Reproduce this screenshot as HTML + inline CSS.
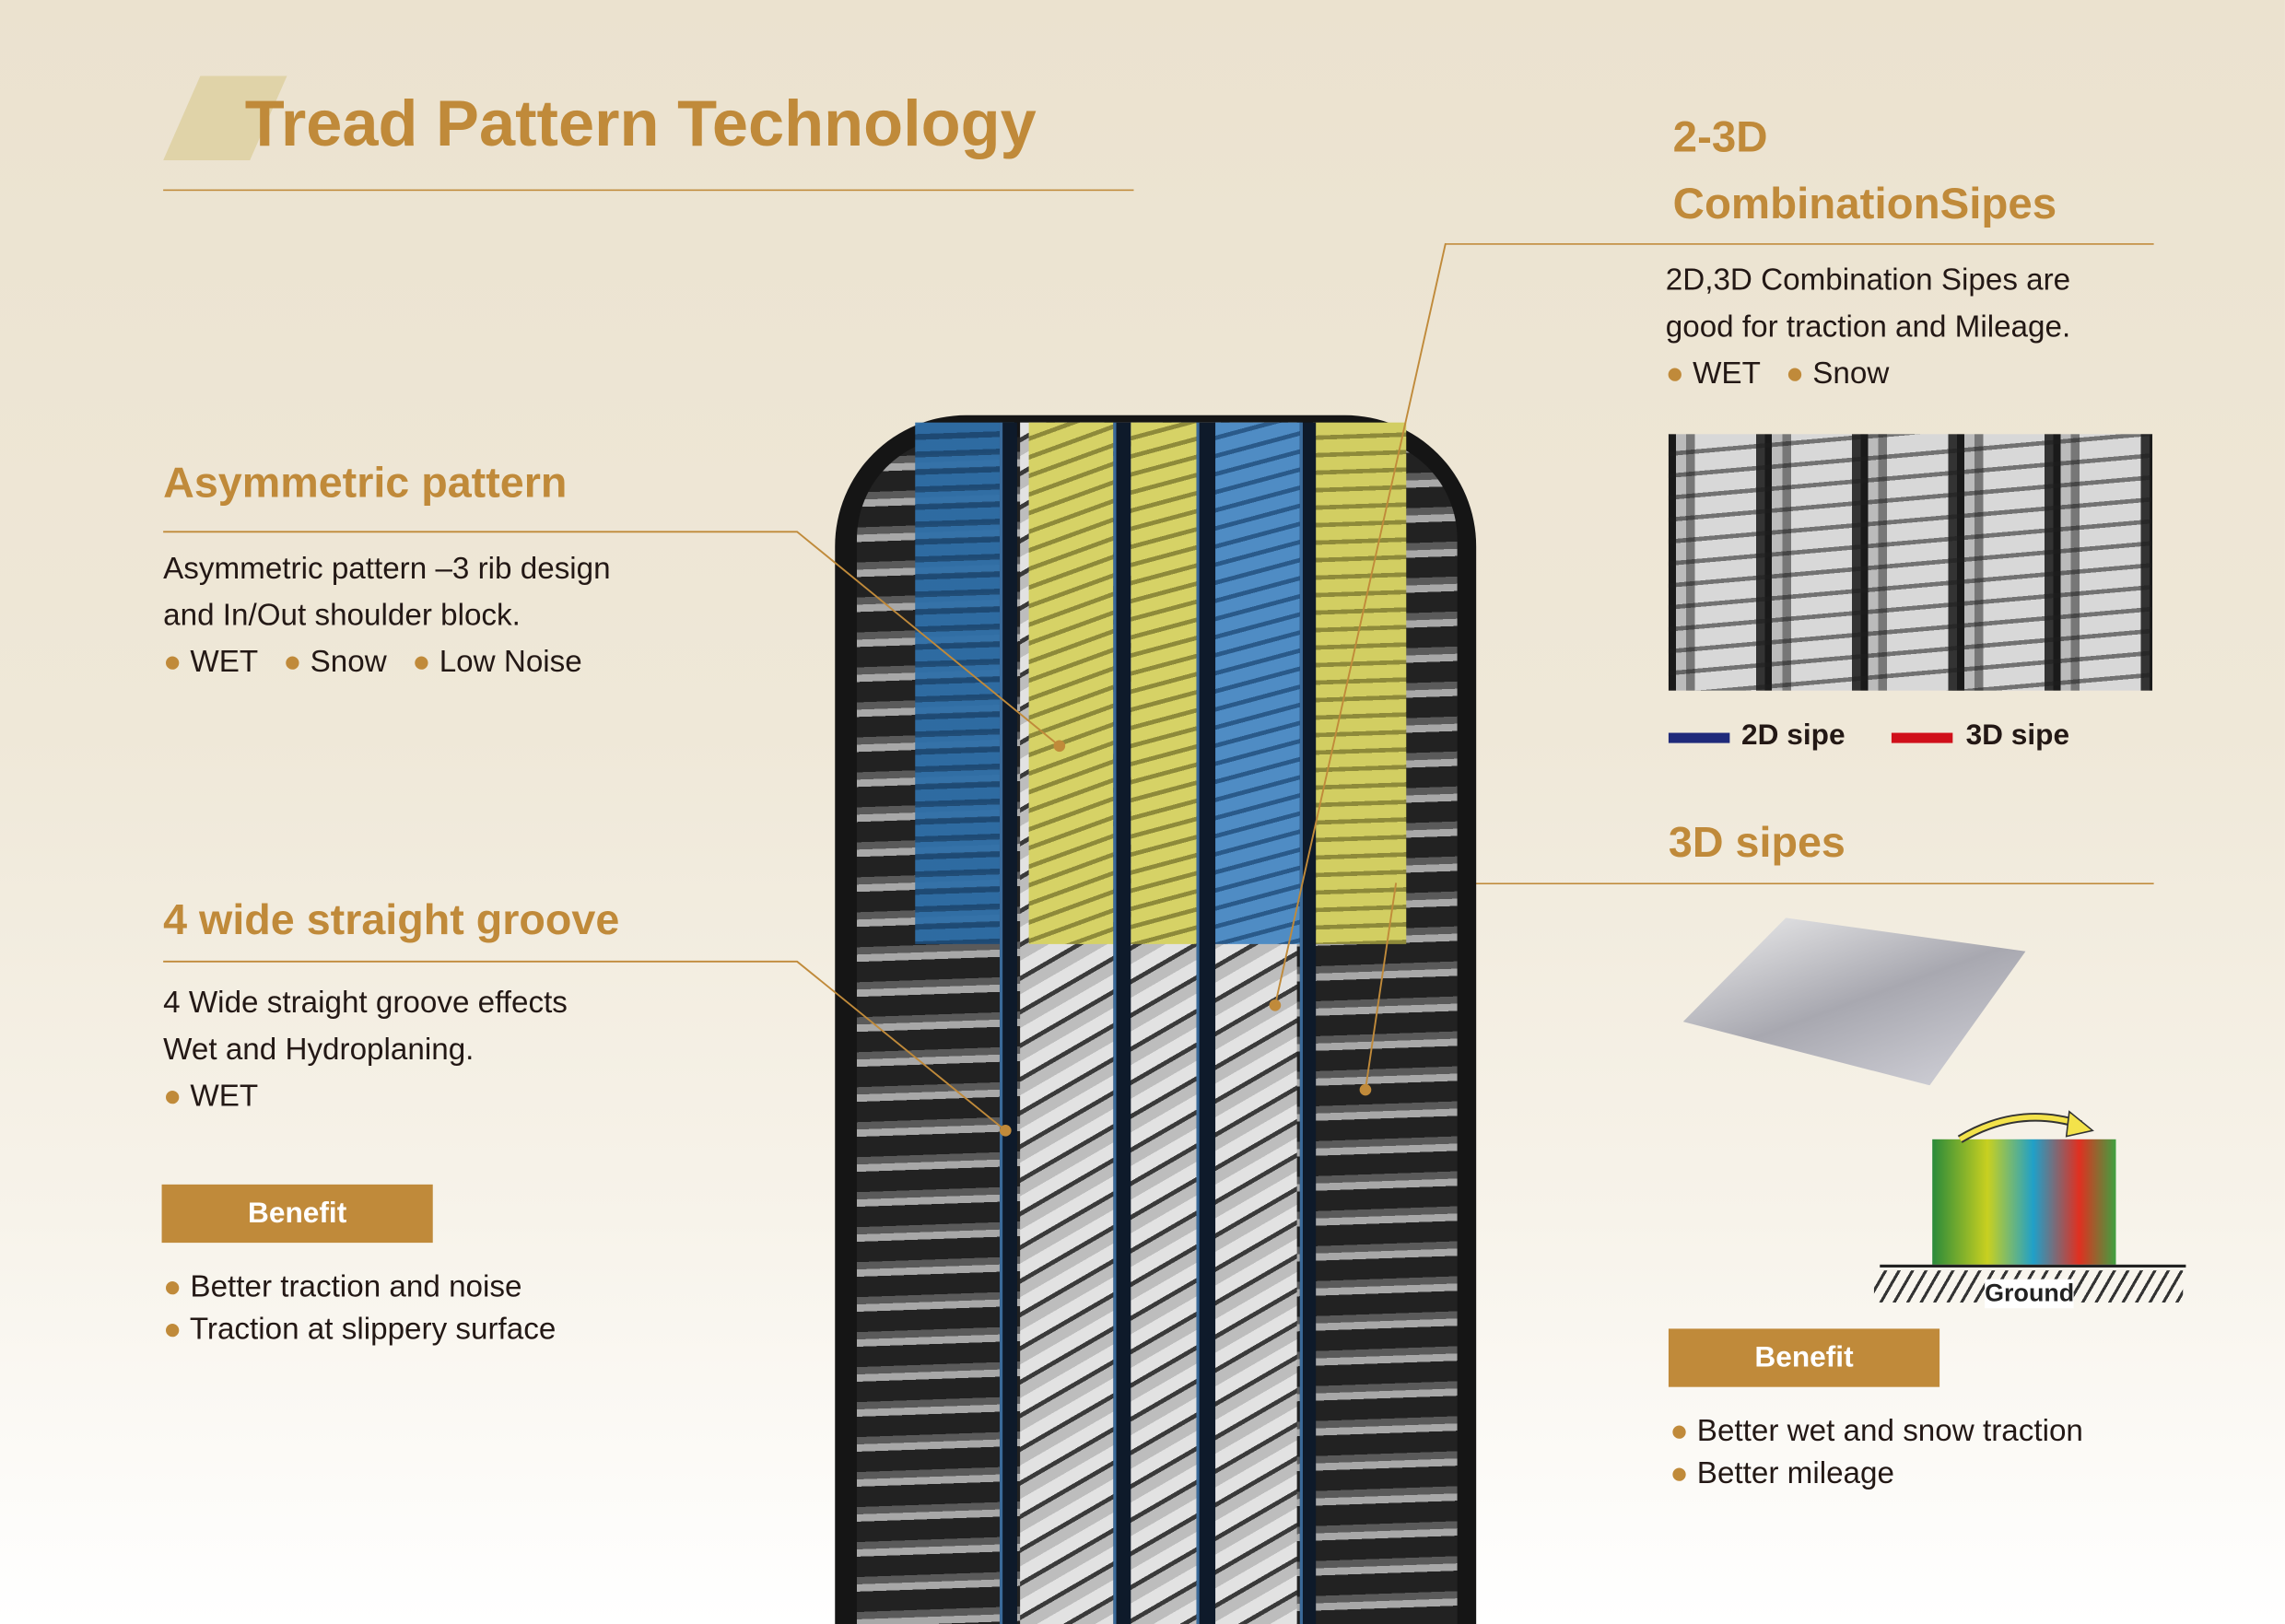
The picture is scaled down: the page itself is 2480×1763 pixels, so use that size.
<!DOCTYPE html>
<html><head><meta charset="utf-8"><style>
html,body{margin:0;padding:0;width:2480px;height:1763px;overflow:hidden}
#s{position:absolute;left:0;top:0;width:1568px;height:1115px;transform:scale(1.5816);transform-origin:0 0;
background:linear-gradient(#ebe2cf 0%,#efe8d8 45%,#f7f3ea 75%,#ffffff 100%);font-family:"Liberation Sans",sans-serif;overflow:hidden}
.a{position:absolute}
.h{color:#c08a3a;font-weight:bold;font-size:30px}
.t{color:#231815;font-size:21px;line-height:32px}
.d{color:#c08a3a}
.ben{position:absolute;background:#c08a3a;color:#fff;font-weight:bold;font-size:20px;text-align:center;line-height:40px;width:186px;height:40px}
.rule{position:absolute;height:1px;background:#c08a3a}
</style></head><body><div id="s">
<div class="a" style="left:112px;top:52px;width:85px;height:58px;background:#e0d3a8;clip-path:polygon(30% 0,100% 0,70% 100%,0 100%)"></div>
<div class="a h" style="left:168px;top:61px;font-size:44.5px">Tread Pattern Technology</div>
<div class="rule" style="left:112px;top:130px;width:666px"></div>

<div class="a h" style="left:112px;top:315px;font-size:29.5px">Asymmetric pattern</div>
<div class="a t" style="left:112px;top:375px">Asymmetric pattern –3 rib design<br>and In/Out shoulder block.<br><span class="d">●</span> WET &nbsp;&nbsp;<span class="d">●</span> Snow &nbsp;&nbsp;<span class="d">●</span> Low Noise</div>

<div class="a h" style="left:112px;top:615px;font-size:29.5px">4 wide straight groove</div>
<div class="a t" style="left:112px;top:673px">4 Wide straight groove effects<br>Wet and Hydroplaning.<br><span class="d">●</span> WET</div>
<div class="ben" style="left:111px;top:813px">Benefit</div>
<div class="a t" style="left:112px;top:869px;line-height:29px"><span class="d">●</span> Better traction and noise<br><span class="d">●</span> Traction at slippery surface</div>

<div class="a h" style="left:1148px;top:72px;line-height:46px">2-3D<br>CombinationSipes</div>
<div class="rule" style="left:992px;top:167px;width:486px"></div>
<div class="a t" style="left:1143px;top:177px">2D,3D Combination Sipes are<br>good for traction and Mileage.<br><span class="d">●</span> WET &nbsp;&nbsp;<span class="d">●</span> Snow</div>
<div class="a" style="left:1145px;top:298px;width:332px;height:176px;background:repeating-linear-gradient(90deg,#1a1a1a 0 5px,#bbb 5px 12px,#777 12px 18px,#d8d8d8 18px 60px,#333 60px 66px)"></div>
<div class="a" style="left:1145px;top:298px;width:332px;height:176px;background:repeating-linear-gradient(175deg,transparent 0 12px,rgba(30,30,30,.55) 12px 15px)"></div>
<div class="a" style="left:1145px;top:503px;width:42px;height:7px;background:#1f2a7a"></div>
<div class="a" style="left:1195px;top:494px;font-weight:bold;font-size:20px;color:#231815">2D sipe</div>
<div class="a" style="left:1298px;top:503px;width:42px;height:7px;background:#d0101a"></div>
<div class="a" style="left:1349px;top:494px;font-weight:bold;font-size:20px;color:#231815">3D sipe</div>

<div class="a h" style="left:1145px;top:562px;font-size:29.5px">3D sipes</div>
<div class="rule" style="left:958px;top:606px;width:520px"></div>
<div class="a" style="left:1155px;top:630px;width:235px;height:115px;background:linear-gradient(160deg,#eee,#a8a8b0 50%,#d5d5dc);clip-path:polygon(30% 0,100% 20%,72% 100%,0 62%)"></div>
<div class="a" style="left:1326px;top:782px;width:126px;height:86px;background:linear-gradient(90deg,#2a8a3a,#c8d020 30%,#20a0c8 55%,#e03020 80%,#40a040)"></div>
<div class="a" style="left:1290px;top:868px;width:210px;height:2px;background:#222"></div>
<div class="a" style="left:1286px;top:872px;width:212px;height:22px;background:repeating-linear-gradient(120deg,transparent 0 6px,#333 6px 8px)"></div>
<div class="a" style="left:1362px;top:878px;font-weight:bold;font-size:17px;background:#fff;color:#222">Ground</div>
<svg class="a" style="left:1340px;top:760px" width="100" height="30"><path d="M5 22 Q45 -2 88 12" stroke="#333" stroke-width="6" fill="none"/><path d="M5 22 Q45 -2 88 12" stroke="#f3e24a" stroke-width="3.5" fill="none"/><path d="M80 3 L96 16 L78 20 Z" fill="#f3e24a" stroke="#333"/></svg>
<div class="ben" style="left:1145px;top:912px">Benefit</div>
<div class="a t" style="left:1146px;top:968px;line-height:29px"><span class="d">●</span> Better wet and snow traction<br><span class="d">●</span> Better mileage</div>

<!-- tire -->
<div class="a" style="left:573px;top:285px;width:440px;height:860px;background:#151515;border-radius:90px 90px 0 0"></div>
<div class="a" style="left:588px;top:300px;width:412px;height:815px;border-radius:70px 70px 0 0;background:repeating-linear-gradient(178deg,#222 0 14px,#5a5a5a 14px 19px,#a8a8a8 19px 24px)"></div>
<div class="a" style="left:700px;top:290px;width:190px;height:825px;background:repeating-linear-gradient(150deg,#e2e2e2 0 9px,#3a3a3a 9px 12px,#bdbdbd 12px 20px)"></div>
<div class="a" style="left:628px;top:290px;width:68px;height:358px;background:repeating-linear-gradient(178deg,#2f6fa8 0 8px,#1e4c78 8px 12px);opacity:.95"></div>
<div class="a" style="left:706px;top:290px;width:58px;height:358px;background:repeating-linear-gradient(160deg,#d6d266 0 9px,#8e8a3a 9px 12px)"></div>
<div class="a" style="left:776px;top:290px;width:45px;height:358px;background:repeating-linear-gradient(165deg,#d6d266 0 9px,#8e8a3a 9px 12px)"></div>
<div class="a" style="left:833px;top:290px;width:60px;height:358px;background:repeating-linear-gradient(165deg,#4f8cc4 0 9px,#2a5a8a 9px 12px)"></div>
<div class="a" style="left:901px;top:290px;width:64px;height:358px;background:repeating-linear-gradient(178deg,#d2ce62 0 9px,#8e8a3a 9px 12px)"></div>
<div class="a" style="left:686px;top:290px;width:10px;height:825px;background:#0e1a2a;border-left:2px solid #3a6a9a"></div>
<div class="a" style="left:764px;top:290px;width:10px;height:825px;background:#0e1a2a;border-left:2px solid #3a6a9a"></div>
<div class="a" style="left:821px;top:290px;width:11px;height:825px;background:#0e1a2a;border-left:2px solid #3a6a9a"></div>
<div class="a" style="left:892px;top:290px;width:9px;height:825px;background:#0e1a2a;border-left:2px solid #3a6a9a"></div>

<svg class="a" style="left:0;top:0" width="1568" height="1115">
<g stroke="#c08a3a" stroke-width="1.2" fill="none">
<polyline points="112,365 547,365 727,512"/>
<polyline points="112,660 547,660 690,776"/>
<polyline points="992,167 875,690"/>
<polyline points="958,606 937,748"/>
</g>
<g fill="#c08a3a"><circle cx="727" cy="512" r="4"/><circle cx="690" cy="776" r="4"/><circle cx="875" cy="690" r="4"/><circle cx="937" cy="748" r="4"/></g>
</svg>
</div></body></html>
